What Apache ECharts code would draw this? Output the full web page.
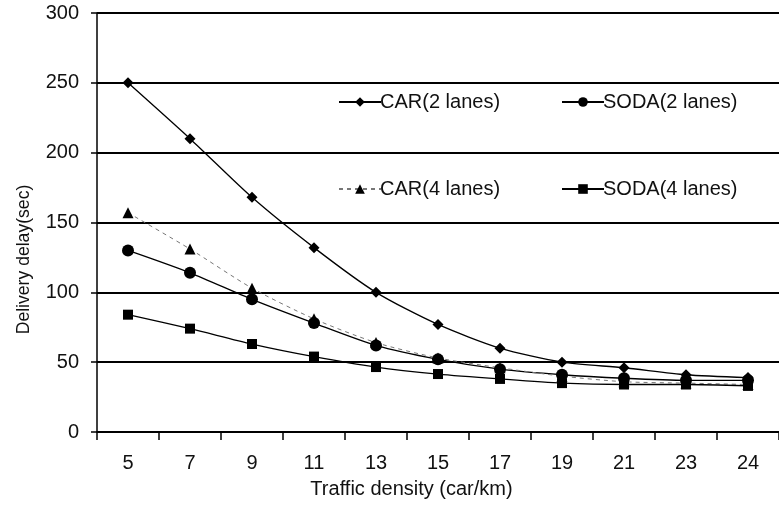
<!DOCTYPE html>
<html><head><meta charset="utf-8">
<script src="https://cdn.jsdelivr.net/npm/echarts@6/dist/echarts.min.js"></script>
<style>html,body{margin:0;padding:0;background:#fff}#c{width:779px;height:505px}</style>
</head><body><div id="c"></div>
<script>
const categories = ['5','7','9','11','13','15','17','19','21','23','24'];
const car2 = [250, 210, 168, 132, 100, 77, 60, 50, 46, 41, 39];
const soda2 = [130, 114, 95, 78, 62, 52, 45, 41, 38.5, 37, 37];
const car4 = [157, 131, 103, 81, 64, 53, 46, 40, 36, 35, 34];
const soda4 = [84, 74, 63, 54, 46.5, 41.5, 38, 35, 34, 34, 33];
const yTicks = [0, 50, 100, 150, 200, 250, 300];

const font = '"Liberation Sans", Arial, sans-serif';
const chart = echarts.init(document.getElementById('c'));
function leg(name, left, top) {
  return { data: [name], left: left, top: top, itemWidth: 42, itemHeight: 12, itemGap: 0,
    textStyle: { fontFamily: font, fontSize: 20, color: '#111', padding: [0,0,0,-6] } };
}
chart.setOption({
  animation: false,
  backgroundColor: '#fff',
  grid: { left: 97, right: -7, top: 13, bottom: 73 },
  legend: [leg('CAR(2 lanes)', 333, 87), leg('SODA(2 lanes)', 556, 87), leg('CAR(4 lanes)', 333, 174), leg('SODA(4 lanes)', 556, 174)],
  xAxis: {
    type: 'category', data: categories, boundaryGap: true,
    name: 'Traffic density (car/km)', nameLocation: 'middle', nameGap: 47,
    nameTextStyle: { fontFamily: font, fontSize: 20, color: '#111', padding: [0, 53, 0, 0] },
    axisLine: { lineStyle: { color: '#000', width: 1.5 } },
    axisTick: { show: true, length: 8, lineStyle: { color: '#000', width: 1.5 } },
    axisLabel: { fontFamily: font, fontSize: 20, color: '#111', margin: 21 }
  },
  yAxis: {
    type: 'value', min: yTicks[0], max: yTicks[yTicks.length-1], interval: 50,
    name: 'Delivery delay(sec)', nameLocation: 'middle', nameGap: 64, nameRotate: 90,
    nameTextStyle: { fontFamily: font, fontSize: 17.6, color: '#111', padding: [0, 74, 0, 0] },
    axisLine: { show: true, lineStyle: { color: '#000', width: 1.5 } },
    axisTick: { show: true, length: 6, lineStyle: { color: '#000', width: 1.5 } },
    axisLabel: { fontFamily: font, fontSize: 20, color: '#111', margin: 18 },
    splitLine: { lineStyle: { color: '#000', width: 1.8 } }
  },
  series: [
    { name: 'CAR(2 lanes)', type: 'line', data: car2, smooth: 0.25, symbol: 'diamond', symbolSize: 11,
      itemStyle: { color: '#000' }, lineStyle: { color: '#000', width: 1.3 } },
    { name: 'SODA(2 lanes)', type: 'line', data: soda2, smooth: 0.25, symbol: 'circle', symbolSize: 12,
      itemStyle: { color: '#000' }, lineStyle: { color: '#000', width: 1.3 } },
    { name: 'CAR(4 lanes)', type: 'line', data: car4, smooth: 0.25, symbol: 'triangle', symbolSize: 11,
      itemStyle: { color: '#000' }, lineStyle: { color: '#777', width: 1, type: [4, 4] } },
    { name: 'SODA(4 lanes)', type: 'line', data: soda4, smooth: 0.25, symbol: 'rect', symbolSize: 10,
      itemStyle: { color: '#000' }, lineStyle: { color: '#000', width: 1.3 } }
  ]
});
</script></body></html>
